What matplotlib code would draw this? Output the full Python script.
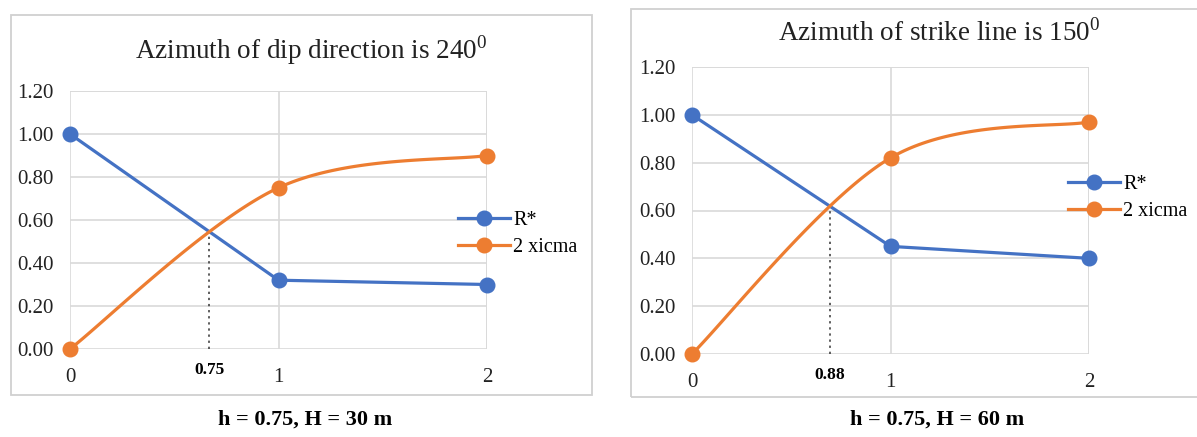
import numpy as np
import matplotlib
matplotlib.use("Agg")
import matplotlib.pyplot as plt
from matplotlib.patches import Rectangle

plt.rcParams['font.family'] = ['Liberation Serif', 'DejaVu Serif']
plt.rcParams['mathtext.fontset'] = 'custom'
plt.rcParams['mathtext.rm'] = 'Liberation Serif'

# data
categories = ["0", "1", "2"]
r_star_dip = [1.00, 0.32, 0.30]
xicma_dip = [0.00, 0.75, 0.90]
r_star_strike = [1.00, 0.45, 0.40]
xicma_strike = [0.00, 0.82, 0.97]
titles = ["Azimuth of dip direction is 240$^{0}$",
          "Azimuth of strike line is 150$^{0}$"]
captions = ["h = 0.75, H = 30 m", "h = 0.75, H = 60 m"]
cross_labels = ["0.75", "0.88"]
yticks = [0.0, 0.2, 0.4, 0.6, 0.8, 1.0, 1.2]

BLUE = "#4472C4"
ORANGE = "#ED7D31"
GRID = "#d9d9d9"


def excel_smooth(x, y, n=60):
    """Bezier smoothing the way Excel draws a 'smoothed line'."""
    pts = np.column_stack([x, y]).astype(float)
    ext = np.vstack([pts[0], pts, pts[-1]])
    out = []
    t = np.linspace(0, 1, n)[:, None]
    for i in range(len(pts) - 1):
        p0 = ext[i + 1]
        p3 = ext[i + 2]
        c1 = p0 + (ext[i + 2] - ext[i]) / 6.0
        c2 = p3 - (ext[i + 3] - ext[i + 1]) / 6.0
        seg = ((1 - t) ** 3) * p0 + 3 * ((1 - t) ** 2) * t * c1 \
            + 3 * (1 - t) * t ** 2 * c2 + t ** 3 * p3
        out.append(seg if i == 0 else seg[1:])
    seg = np.vstack(out)
    return seg[:, 0], seg[:, 1]


def crossing(x, y_lin, xs, ys):
    """x where the smoothed curve meets the straight line."""
    lin = np.interp(xs, x, y_lin)
    d = ys - lin
    k = np.where(np.diff(np.sign(d)) != 0)[0][0]
    f = d[k] / (d[k] - d[k + 1])
    xc = xs[k] + f * (xs[k + 1] - xs[k])
    return xc, np.interp(xc, x, y_lin)


fig = plt.figure(figsize=(11.97, 4.37), dpi=100)

# chart frames (pixels: x0, y0 from top, x1, y1)
frames = [(11, 15, 592, 395), (631, 9, 1205, 397)]
for x0, y0, x1, y1 in frames:
    fig.patches.append(Rectangle((x0 / 1197, 1 - y1 / 437), (x1 - x0) / 1197,
                                 (y1 - y0) / 437, transform=fig.transFigure,
                                 fill=False, edgecolor="#d0d0d0", lw=1.3))

axes_px = [(70, 91, 487, 349), (692, 67, 1089, 354)]
title_px = [(311, 50), (939, 33)]
legend_px = [(458, 234), (1068, 198)]
caption_px = [(305, 420), (937, 420)]
series = [(r_star_dip, xicma_dip), (r_star_strike, xicma_strike)]

for i in range(2):
    x0, y0, x1, y1 = axes_px[i]
    ax = fig.add_axes([x0 / 1197, 1 - y1 / 437, (x1 - x0) / 1197, (y1 - y0) / 437])
    r, s = series[i]
    x = np.arange(len(categories))
    xs, ys = excel_smooth(x, s)
    ax.plot(x, r, color=BLUE, lw=2.3, marker="o", ms=10.5, label="R*",
            clip_on=False, zorder=3)
    ax.plot(xs, ys, color=ORANGE, lw=2.3, zorder=3, clip_on=False)
    ax.plot(x, s, color=ORANGE, lw=0, marker="o", ms=10.5, clip_on=False, zorder=4)
    ax.plot([], [], color=ORANGE, lw=2.3, marker="o", ms=10.5, label="2 xicma")

    xc, yc = crossing(x, r, xs, ys)
    ax.plot([xc, xc], [0, yc], color="#333333", lw=1.1, ls=(0, (1.5, 2.5)), zorder=2)
    ax.annotate(cross_labels[i], (xc, 0), xytext=(0, -15), textcoords="offset points",
                ha="center", va="center", fontsize=12.5, fontweight="bold",
                annotation_clip=False)

    ax.set_xlim(0, 2)
    ax.set_ylim(0, 1.2)
    ax.set_xticks(x)
    ax.set_xticklabels(categories)
    ax.set_yticks(yticks)
    ax.set_yticklabels(["%.2f" % v for v in yticks])
    ax.tick_params(length=0, labelsize=15, colors="#222222")
    ax.tick_params(axis="x", pad=14)
    ax.tick_params(axis="y", pad=12)
    ax.grid(True, color=GRID, lw=1.2)
    ax.set_axisbelow(True)
    for sp in ax.spines.values():
        sp.set_visible(False)
    ax.axvline(2, color=GRID, lw=1.2, zorder=0)
    ax.axhline(1.2, color=GRID, lw=1.2, zorder=0)

    tx, ty = title_px[i]
    fig.text(tx / 1197, 1 - ty / 437, titles[i], ha="center", va="center",
             fontsize=19.5, color="#222222")
    lx, ly = legend_px[i]
    h, l = ax.get_legend_handles_labels()
    fig.legend(h, l, loc="center left", bbox_to_anchor=(lx / 1197, 1 - ly / 437),
               frameon=False, fontsize=14.5, handlelength=2.6, handletextpad=0.15,
               labelspacing=0.4, borderpad=0, borderaxespad=0)
    cx, cy = caption_px[i]
    fig.text(cx / 1197, 1 - cy / 437, captions[i], ha="center", va="center",
             fontsize=16, fontweight="bold")

fig.savefig("out.png", dpi=100)
